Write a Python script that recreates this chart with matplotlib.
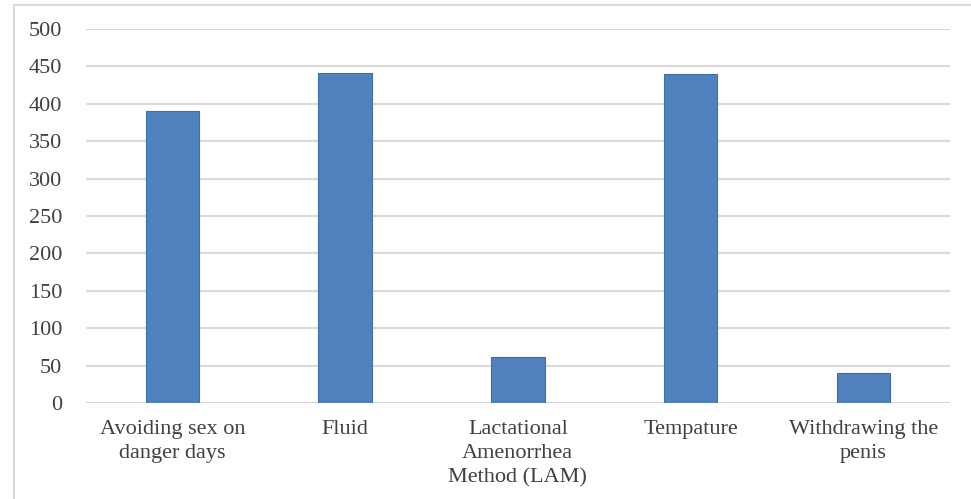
import matplotlib.pyplot as plt
from matplotlib.lines import Line2D
import numpy as np

methods = ["Avoiding sex on\ndanger days", "Fluid",
           "Lactational\nAmenorrhea\nMethod (LAM)", "Tempature",
           "Withdrawing the\npenis"]
counts = [390, 441, 62, 440, 40]
yticks = [0, 50, 100, 150, 200, 250, 300, 350, 400, 450, 500]

plt.rcParams['font.family'] = ['Liberation Serif', 'DejaVu Serif']

fig = plt.figure(figsize=(9.71, 4.99), dpi=100)
ax = fig.add_axes([0.0886, 0.1924, 0.8894, 0.7495])

x = np.arange(len(methods))
ax.bar(x, counts, width=0.31, color='#4f81bd', edgecolor='#3f6fa8',
       linewidth=0.8, zorder=3)

ax.set_xlim(-0.5, len(methods) - 0.5)
ax.set_ylim(0, 500)
ax.set_yticks(yticks)
ax.set_xticks(x)
ax.set_xticklabels(methods, fontsize=16, color='#404040', linespacing=1.38)
ax.tick_params(axis='y', labelsize=16, labelcolor='#404040', length=0, pad=17)
ax.tick_params(axis='x', length=0, pad=12)
ax.grid(axis='y', color='#d9d9d9', linewidth=1.5, zorder=0)
for s in ax.spines.values():
    s.set_visible(False)

# outer chart frame (left and top edges only)
fig.add_artist(Line2D([14 / 971, 14 / 971], [0, 1 - 5 / 499],
                      transform=fig.transFigure, color='#d9d9d9', lw=1.5))
fig.add_artist(Line2D([14 / 971, 1], [1 - 5 / 499, 1 - 5 / 499],
                      transform=fig.transFigure, color='#d9d9d9', lw=1.5))

fig.savefig('out.png', dpi=100)
